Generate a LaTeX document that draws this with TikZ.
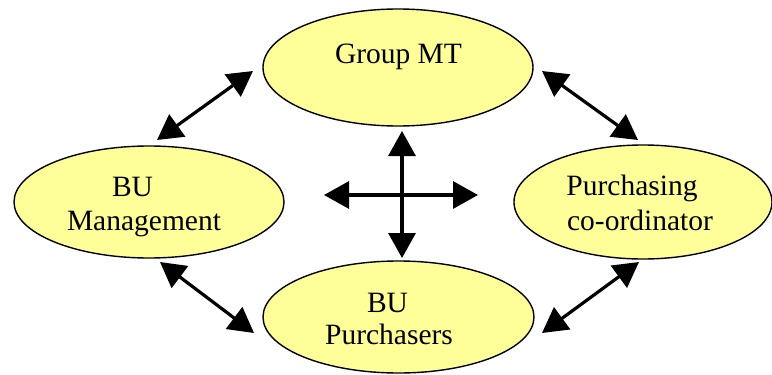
\documentclass[tikz,border=0pt]{standalone}
\usepackage{fontspec}
\setmainfont{Liberation Serif}
\usetikzlibrary{shapes.geometric,arrows.meta}

\definecolor{paleyellow}{RGB}{255,255,153}

\tikzset{
  bubble/.style={ellipse, draw=black, line width=1.4pt, fill=paleyellow, inner sep=0pt},
  label/.style={anchor=base, inner sep=0pt, font=\fontsize{29.5}{34}\selectfont},
  link/.style={line width=3.2pt, {Triangle[length=25pt,width=27pt]}-{Triangle[length=25pt,width=27pt]}}
}

\begin{document}
\begin{tikzpicture}[x=1pt,y=-1pt]
  \useasboundingbox (0,0) rectangle (772,375);

  % the four groups
  \node[bubble, minimum width=270pt, minimum height=117pt] (gmt)  at (398,67.5) {};
  \node[bubble, minimum width=270pt, minimum height=112pt] (mgmt) at (149,202) {};
  \node[bubble, minimum width=258pt, minimum height=114pt] (pco)  at (643,202) {};
  \node[bubble, minimum width=271pt, minimum height=112pt] (bup)  at (398.5,317) {};

  % their names
  \node[label] (gmt-t)   at (398.5,63) {Group MT};
  \node[label] (mgmt-t1) at (132.5,196) {BU};
  \node[label] (mgmt-t2) at (144,230) {Management};
  \node[label] (pco-t1)  at (632,195) {Purchasing};
  \node[label] (pco-t2)  at (640,230) {co-ordinator};
  \node[label] (bup-t1)  at (387.5,312) {BU};
  \node[label] (bup-t2)  at (389,344) {Purchasers};

  % ends of the two-way links
  \coordinate (tl-a) at (157,140);  \coordinate (tl-b) at (253,71);
  \coordinate (tr-a) at (542,71);   \coordinate (tr-b) at (638,140);
  \coordinate (bl-a) at (160,262);  \coordinate (bl-b) at (254,333);
  \coordinate (br-a) at (639,262);  \coordinate (br-b) at (542,333);

  \draw[link] (tl-a) -- (tl-b);
  \draw[link] (tr-a) -- (tr-b);
  \draw[link] (bl-a) -- (bl-b);
  \draw[link] (br-a) -- (br-b);

  % central cross
  \coordinate (up)    at (402,131);
  \coordinate (down)  at (402,258);
  \coordinate (left)  at (324,195);
  \coordinate (right) at (478,195);
  \draw[link] (up) -- (down);
  \draw[link] (left) -- (right);
\end{tikzpicture}
\end{document}
